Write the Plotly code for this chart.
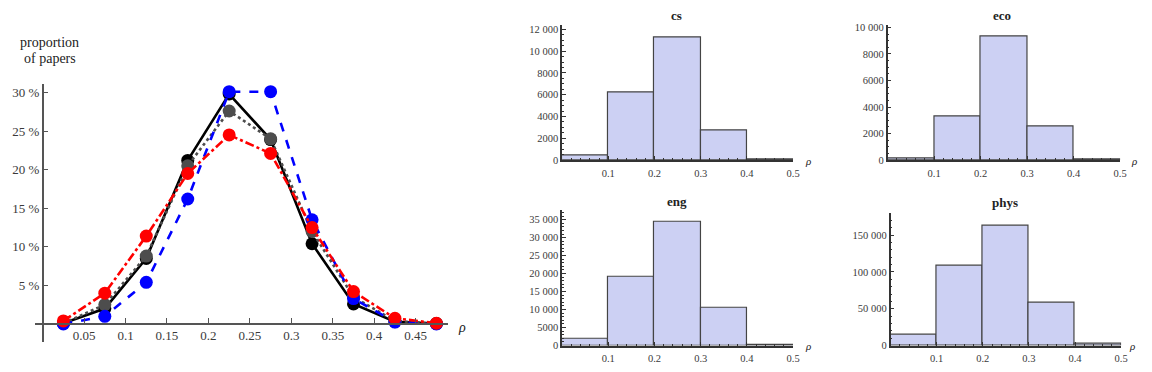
import plotly.graph_objects as go

# ---------------- data ----------------
rho_mid = [0.025, 0.075, 0.125, 0.175, 0.225, 0.275, 0.325, 0.375, 0.425, 0.475]
share_black = [0.1, 2.0, 8.5, 21.2, 29.8, 23.9, 10.4, 2.6, 0.3, 0.05]
share_gray = [0.1, 2.5, 8.8, 20.5, 27.6, 24.0, 12.0, 3.5, 0.4, 0.05]
share_blue = [0.0, 1.0, 5.4, 16.2, 30.1, 30.1, 13.5, 3.3, 0.25, 0.0]
share_red = [0.4, 4.0, 11.4, 19.5, 24.5, 22.1, 12.5, 4.2, 0.75, 0.1]

left_xticks = [0.05, 0.1, 0.15, 0.2, 0.25, 0.3, 0.35, 0.4, 0.45]
left_xticklabels = ["0.05", "0.1", "0.15", "0.2", "0.25", "0.3", "0.35", "0.4", "0.45"]
left_yticks = [5, 10, 15, 20, 25, 30]
left_yticklabels = ["5 %", "10 %", "15 %", "20 %", "25 %", "30 %"]

bin_mid = [0.05, 0.15, 0.25, 0.35, 0.45]
hist_xticks = [0.1, 0.2, 0.3, 0.4, 0.5]
hist_xticklabels = ["0.1", "0.2", "0.3", "0.4", "0.5"]

cs_counts = [390, 6200, 11300, 2700, 30]
eco_counts = [120, 3300, 9300, 2570, 20]
eng_counts = [1800, 19000, 34400, 10500, 200]
phys_counts = [14600, 108400, 162700, 58000, 2200]

cs_yticks = [0, 2000, 4000, 6000, 8000, 10000, 12000]
cs_yticklabels = ["0", "2000", "4000", "6000", "8000", "10 000", "12 000"]
eco_yticks = [0, 2000, 4000, 6000, 8000, 10000]
eco_yticklabels = ["0", "2000", "4000", "6000", "8000", "10 000"]
eng_yticks = [0, 5000, 10000, 15000, 20000, 25000, 30000, 35000]
eng_yticklabels = ["0", "5000", "10 000", "15 000", "20 000", "25 000", "30 000", "35 000"]
phys_yticks = [0, 50000, 100000, 150000]
phys_yticklabels = ["0", "50 000", "100 000", "150 000"]

# ---------------- layout helpers ----------------
W, H = 1152, 372
FONT = "Liberation Serif"


def fx(px):
    return px / W


def fy(py):
    return 1 - py / H


fig = go.Figure()

# ---------------- left line chart ----------------
series = [
    (share_black, "black", "solid"),
    (share_gray, "#4d4d4d", "dot"),
    (share_blue, "#0000ff", "dash"),
    (share_red, "#ff0000", "dashdot"),
]
for ys, col, dash in series:
    fig.add_trace(go.Scatter(
        x=rho_mid, y=ys, mode="lines+markers",
        line=dict(color=col, width=2.6, dash=dash),
        marker=dict(color=col, size=13),
        xaxis="x", yaxis="y", showlegend=False, cliponaxis=False,
    ))

# ---------------- histograms ----------------
hists = [
    (cs_counts, "x2", "y2"),
    (eco_counts, "x3", "y3"),
    (eng_counts, "x4", "y4"),
    (phys_counts, "x5", "y5"),
]
for counts, xa, ya in hists:
    fig.add_trace(go.Bar(
        x=bin_mid, y=counts, width=0.1,
        marker=dict(color="rgb(204,208,243)", line=dict(color="#444444", width=1.2)),
        xaxis=xa, yaxis=ya, showlegend=False,
    ))

axis_font = dict(family=FONT, size=13, color="#3a3a3a")
hist_font = dict(family=FONT, size=10.5, color="#3a3a3a")

layout = dict(
    width=W, height=H, autosize=False,
    margin=dict(l=0, r=0, t=0, b=0, pad=0),
    paper_bgcolor="white", plot_bgcolor="white",
    font=dict(family=FONT, color="#222222"),
    bargap=0,
    xaxis=dict(
        domain=[fx(35), fx(451)], range=[-0.0095, 0.4893],
        anchor="free", position=fy(329),
        showgrid=False, zeroline=False, showline=True, linecolor="#555555", linewidth=1.5,
        ticks="inside", ticklen=5, tickcolor="#555555", tickwidth=1,
        tickvals=left_xticks, ticktext=left_xticklabels, tickfont=axis_font,
    ),
    yaxis=dict(
        domain=[fy(347), fy(83)], range=[-2.28, 31.1],
        anchor="free", position=fx(43),
        showgrid=False, zeroline=False, showline=True, linecolor="#555555", linewidth=1.5,
        ticks="inside", ticklen=5, tickcolor="#555555", tickwidth=1,
        tickvals=left_yticks, ticktext=left_yticklabels, tickfont=axis_font,
    ),
)

hist_specs = [
    ("xaxis2", "yaxis2", "x2", "y2", (565.5, 798), (161, 23), 12360, cs_yticks, cs_yticklabels, 500),
    ("xaxis3", "yaxis3", "x3", "y3", (893, 1127), (161, 23), 10147, eco_yticks, eco_yticklabels, 500),
    ("xaxis4", "yaxis4", "x4", "y4", (565.5, 798), (351, 212), 37710, eng_yticks, eng_yticklabels, 1000),
    ("xaxis5", "yaxis5", "x5", "y5", (896, 1128), (351, 215), 180500, phys_yticks, phys_yticklabels, 10000),
]
for xname, yname, xref, yref, (x0, x1), (yb, yt), ytop, yt_vals, yt_text, ymin in hist_specs:
    layout[xname] = dict(
        domain=[fx(x0), fx(x1)], range=[0, 0.5], anchor=yref,
        showgrid=False, zeroline=False, showline=True, linecolor="#333333", linewidth=1.6,
        ticks="inside", ticklen=4, tickcolor="#333333",
        tickvals=hist_xticks, ticktext=hist_xticklabels, tickfont=hist_font,
        ticklabelstandoff=2,
        minor=dict(ticks="inside", ticklen=2, dtick=0.02, tick0=0, tickcolor="#333333"),
    )
    layout[yname] = dict(
        domain=[fy(yb), fy(yt)], range=[0, ytop], anchor=xref,
        showgrid=False, zeroline=False, showline=True, linecolor="#333333", linewidth=1.6,
        ticks="inside", ticklen=4, tickcolor="#333333",
        tickvals=yt_vals, ticktext=yt_text, tickfont=hist_font,
        minor=dict(ticks="inside", ticklen=2, dtick=ymin, tick0=0, tickcolor="#333333"),
    )

fig.update_layout(**layout)

# ---------------- text annotations ----------------
ann = []


def add_text(px, py, text, size):
    ann.append(dict(
        x=fx(px), y=fy(py), xref="paper", yref="paper", text=text, showarrow=False,
        xanchor="center", yanchor="middle",
        font=dict(family=FONT, size=size, color="#222222"),
    ))


add_text(50, 40, "proportion", 14)
add_text(50, 57, "of papers", 14)
add_text(465, 333, "<i>ρ</i>", 14)

add_text(681, 13, "<b>cs</b>", 13)
add_text(1008, 13, "<b>eco</b>", 13)
add_text(681, 203, "<b>eng</b>", 13)
add_text(1011, 204, "<b>phys</b>", 13)

add_text(813, 162, "<i>ρ</i>", 11)
add_text(1141, 162, "<i>ρ</i>", 11)
add_text(813, 352, "<i>ρ</i>", 11)
add_text(1139, 352, "<i>ρ</i>", 11)

fig.update_layout(annotations=ann)

fig.write_html("out.html")
